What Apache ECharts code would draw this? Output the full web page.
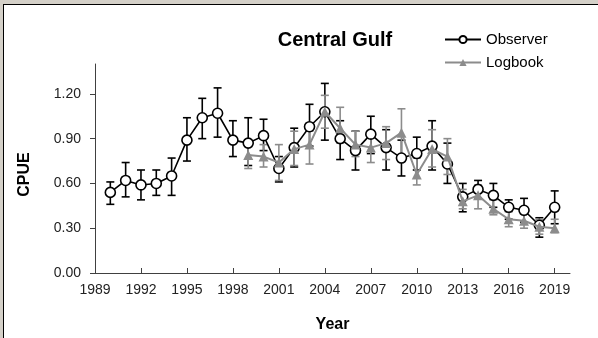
<!DOCTYPE html>
<html>
<head>
<meta charset="utf-8">
<script src="https://cdn.jsdelivr.net/npm/echarts@6/dist/echarts.min.js"></script>
<style>
  html, body { margin: 0; padding: 0; width: 598px; height: 338px; overflow: hidden; background: #d4d0c8; }
  #frame { position: absolute; left: 3px; top: 4px; width: 595px; height: 334px;
           background: #fff; border-left: 1px solid #000; border-top: 1px solid #000; box-sizing: border-box; }
  #chart { position: absolute; left: 0; top: 0; width: 598px; height: 338px; }
</style>
</head>
<body>
<div id="frame"></div>
<div id="chart"></div>
<script>
// CPUE index, Central Gulf: observer vs logbook estimates with error bars
const obsYears = [1990, 1991, 1992, 1993, 1994, 1995, 1996, 1997, 1998, 1999,
                  2000, 2001, 2002, 2003, 2004, 2005, 2006, 2007, 2008, 2009,
                  2010, 2011, 2012, 2013, 2014, 2015, 2016, 2017, 2018, 2019];
const obsCpue  = [0.54, 0.62, 0.59, 0.60, 0.65, 0.89, 1.04, 1.07, 0.89, 0.87,
                  0.92, 0.70, 0.84, 0.98, 1.08, 0.90, 0.82, 0.93, 0.84, 0.77,
                  0.80, 0.85, 0.73, 0.51, 0.56, 0.52, 0.44, 0.42, 0.32, 0.44];
const obsLow   = [0.46, 0.51, 0.49, 0.52, 0.52, 0.75, 0.90, 0.91, 0.78, 0.72,
                  0.82, 0.61, 0.71, 0.85, 0.89, 0.76, 0.69, 0.80, 0.69, 0.65,
                  0.69, 0.69, 0.60, 0.41, 0.50, 0.44, 0.36, 0.34, 0.24, 0.33];
const obsHigh  = [0.61, 0.74, 0.69, 0.69, 0.77, 1.04, 1.17, 1.24, 1.02, 1.04,
                  1.03, 0.78, 0.97, 1.13, 1.27, 1.02, 0.95, 1.05, 0.96, 0.89,
                  0.91, 1.02, 0.87, 0.60, 0.62, 0.60, 0.49, 0.50, 0.37, 0.55];

const logYears = [1999, 2000, 2001, 2002, 2003, 2004, 2005, 2006, 2007, 2008,
                  2009, 2010, 2011, 2012, 2013, 2014, 2015, 2016, 2017, 2018, 2019];
const logCpue  = [0.79, 0.78, 0.74, 0.83, 0.86, 1.08, 0.97, 0.86, 0.84, 0.87,
                  0.94, 0.66, 0.83, 0.78, 0.48, 0.52, 0.43, 0.36, 0.35, 0.31, 0.30];
const logLow   = [0.70, 0.71, 0.62, 0.72, 0.73, 0.97, 0.87, 0.78, 0.74, 0.76,
                  0.78, 0.59, 0.71, 0.66, 0.43, 0.43, 0.39, 0.31, 0.30, 0.26, 0.27];
const logHigh  = [0.88, 0.86, 0.86, 0.95, 0.95, 1.19, 1.11, 0.95, 0.92, 0.98,
                  1.10, 0.77, 0.96, 0.90, 0.56, 0.59, 0.49, 0.41, 0.40, 0.36, 0.36];

const yearTicks = [1989, 1992, 1995, 1998, 2001, 2004, 2007, 2010, 2013, 2016, 2019];
const cpueTicks = [0, 0.3, 0.6, 0.9, 1.2];

const OBS_COLOR = '#000000';
const LOG_COLOR = '#8c8c8c';
const FONT = 'Liberation Sans, Arial, sans-serif';

function errorBars(years, low, high) {
  return years.map((y, i) => [y, low[i], high[i]]);
}

function renderErrorBar(color) {
  return function (params, api) {
    const x = api.value(0);
    const top = api.coord([x, api.value(2)]);
    const bot = api.coord([x, api.value(1)]);
    const cap = 4;
    const style = { stroke: color, lineWidth: 1.6 };
    return {
      type: 'group',
      children: [
        { type: 'line', shape: { x1: top[0], y1: top[1], x2: bot[0], y2: bot[1] }, style },
        { type: 'line', shape: { x1: top[0] - cap, y1: top[1], x2: top[0] + cap, y2: top[1] }, style },
        { type: 'line', shape: { x1: bot[0] - cap, y1: bot[1], x2: bot[0] + cap, y2: bot[1] }, style }
      ]
    };
  };
}

const chart = echarts.init(document.getElementById('chart'), null, { renderer: 'canvas' });

chart.setOption({
  backgroundColor: 'transparent',
  animation: false,
  title: {
    text: 'Central Gulf',
    left: 330, top: 25, textAlign: 'center',
    textStyle: { fontFamily: FONT, fontSize: 20, fontWeight: 'bold', color: '#000' }
  },
  legend: {
    data: ['Observer', 'Logbook'],
    orient: 'vertical',
    left: 439, top: 27,
    itemWidth: 36, itemHeight: 9, itemGap: 8,
    textStyle: { fontFamily: FONT, fontSize: 15, color: '#000' }
  },
  grid: { left: 95, right: 28, top: 64, bottom: 60, containLabel: false },
  xAxis: {
    type: 'value',
    min: 1989, max: 2020,
    name: 'Year', nameLocation: 'middle', nameGap: 44,
    nameTextStyle: { fontFamily: FONT, fontSize: 16, fontWeight: 'bold', color: '#000' },
    axisLine: { lineStyle: { color: '#404040', width: 1 } },
    axisTick: { inside: true, length: 5, customValues: yearTicks, lineStyle: { color: '#404040' } },
    axisLabel: {
      customValues: yearTicks, margin: 10, fontFamily: FONT, fontSize: 14, color: '#222',
      formatter: v => String(v)
    },
    splitLine: { show: false }
  },
  yAxis: {
    type: 'value',
    min: 0, max: 1.4,
    name: 'CPUE', nameLocation: 'middle', nameGap: 62, nameRotate: 90,
    nameTextStyle: { fontFamily: FONT, fontSize: 16, fontWeight: 'bold', color: '#000', padding: [0, 12, 0, 0] },
    axisLine: { show: true, lineStyle: { color: '#404040', width: 1 } },
    axisTick: { show: true, length: 5, customValues: cpueTicks, lineStyle: { color: '#404040' } },
    axisLabel: {
      customValues: cpueTicks, margin: 14, fontFamily: FONT, fontSize: 14, color: '#222',
      formatter: v => v.toFixed(2)
    },
    splitLine: { show: false }
  },
  series: [
    {
      name: 'ObserverErr', type: 'custom', z: 2,
      data: errorBars(obsYears, obsLow, obsHigh),
      renderItem: renderErrorBar(OBS_COLOR),
      encode: { x: 0, y: [1, 2] }
    },
    {
      name: 'LogbookErr', type: 'custom', z: 2,
      data: errorBars(logYears, logLow, logHigh),
      renderItem: renderErrorBar(LOG_COLOR),
      encode: { x: 0, y: [1, 2] }
    },
    {
      name: 'Observer', type: 'line', z: 3,
      data: obsYears.map((y, i) => [y, obsCpue[i]]),
      symbol: 'circle', symbolSize: 10,
      lineStyle: { color: OBS_COLOR, width: 1.6 },
      itemStyle: { color: '#fff', borderColor: OBS_COLOR, borderWidth: 1.6 }
    },
    {
      name: 'Logbook', type: 'line', z: 4,
      data: logYears.map((y, i) => [y, logCpue[i]]),
      symbol: 'triangle', symbolSize: 10,
      lineStyle: { color: LOG_COLOR, width: 2 },
      itemStyle: { color: LOG_COLOR, borderColor: LOG_COLOR, borderWidth: 0 }
    }
  ]
});
</script>
</body>
</html>
